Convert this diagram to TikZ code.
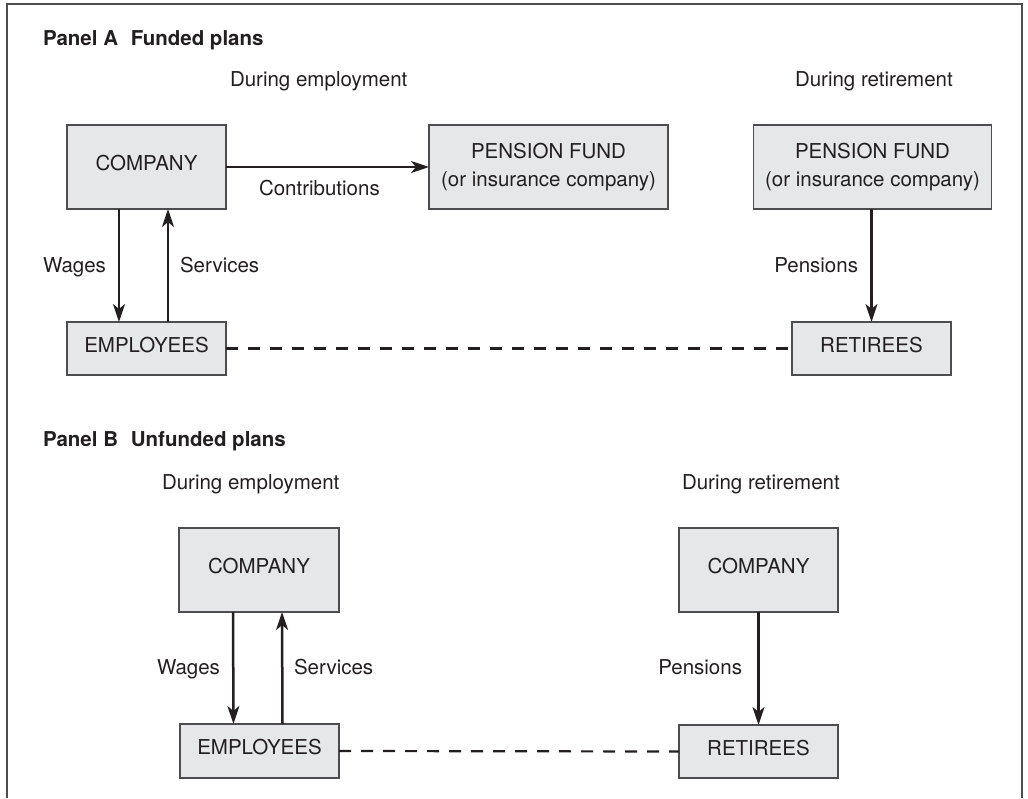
\documentclass[tikz,border=0pt]{standalone}
\usepackage{fontspec}
\setmainfont{TeX Gyre Heros}
\usetikzlibrary{arrows.meta}
\definecolor{ink}{HTML}{231F20}
\definecolor{boxfill}{HTML}{E6E7E8}
\definecolor{boxline}{HTML}{4D4D4F}
\begin{document}
\begin{tikzpicture}[x=1pt,y=-1pt,
  every node/.style={text=ink, font=\fontsize{20.5}{28}\selectfont, inner sep=0pt, outer sep=0pt},
  box/.style={draw=boxline, line width=1.6pt, fill=boxfill, minimum height=84pt, align=center},
  smallbox/.style={box, minimum height=53pt},
  capline/.style={text height=0.72em, text depth=0pt},
  arr/.style={draw=ink, line width=2.5pt, -{Stealth[length=18pt,width=12pt,inset=5pt]}},
  dashline/.style={draw=ink, line width=2.2pt, dash pattern=on 12pt off 10pt},
  paneltitle/.style={font=\fontsize{20.5}{24}\selectfont\bfseries, anchor=base west},
  lbl/.style={anchor=base west},
  lble/.style={anchor=base east},
]
\useasboundingbox (0,0) rectangle (1028,798);
\draw[boxline, line width=2pt] (7,798) -- (7,4) -- (1022,4) -- (1022,798);

% Panel A
\node[paneltitle] (tA) at (43,45) {Panel A\hspace{0.62em}Funded plans};
\node[lbl] (deA) at (230,86) {During employment};
\node[lbl] (drA) at (795,86) {During retirement};

\node[box, capline, minimum width=159pt] (compA) at (146.5,167) {COMPANY};
\node[smallbox, capline, minimum width=159pt] (empA) at (146.5,348.5) {EMPLOYEES};
\node[box, minimum width=239pt] (pfA) at (548.5,167) {PENSION FUND\\(or insurance company)};
\node[box, minimum width=238pt] (pfR) at (872.5,167) {PENSION FUND\\(or insurance company)};
\node[smallbox, capline, minimum width=159pt] (retA) at (871.5,348.5) {RETIREES};

\draw[arr] (compA.east) -- (pfA.west);
\draw[arr] ([xshift=-27.5pt]compA.south) -- ([xshift=-27.5pt]empA.north);
\draw[arr] ([xshift=21.5pt]empA.north) -- ([xshift=21.5pt]compA.south);
\draw[arr] (pfR.south -| retA.north) -- (retA.north);
\draw[dashline] (empA.east) -- (retA.west);

\node[lbl] (lcon) at (259,195) {Contributions};
\node[lbl] (lwA) at (43,272) {Wages};
\node[lbl] (lsA) at (180,272) {Services};
\node[lble] (lpA) at (858,272) {Pensions};

% Panel B
\node[paneltitle] (tB) at (43,446) {Panel B\hspace{0.62em}Unfunded plans};
\node[lbl] (deB) at (162,489) {During employment};
\node[lbl] (drB) at (682,489) {During retirement};

\node[box, capline, minimum width=160pt] (compB) at (259,570) {COMPANY};
\node[box, capline, minimum width=159pt] (compBR) at (758.5,570) {COMPANY};
\node[box, capline, minimum width=159pt, minimum height=54pt] (empB) at (259.5,751) {EMPLOYEES};
\node[smallbox, capline, minimum width=159pt] (retB) at (758.5,751.5) {RETIREES};

\draw[arr] ([xshift=-26pt]compB.south) -- ([xshift=-26pt]empB.north);
\draw[arr] ([xshift=23pt]empB.north) -- ([xshift=23pt]compB.south);
\draw[arr] (compBR.south -| retB.north) -- (retB.north);
\draw[dashline] (empB.east) -- (retB.west);

\node[lbl] (lwB) at (157,674) {Wages};
\node[lbl] (lsB) at (294,674) {Services};
\node[lble] (lpB) at (742,674) {Pensions};
\end{tikzpicture}
\end{document}
